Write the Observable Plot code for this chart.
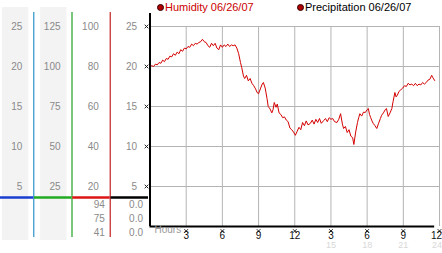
<!DOCTYPE html>
<html><head><meta charset="utf-8">
<script src="https://cdn.jsdelivr.net/npm/d3@7"></script>
<script src="https://cdn.jsdelivr.net/npm/@observablehq/plot@0.6"></script>
<style>
body{margin:0;background:#fff;font-family:"Liberation Sans",Arial,sans-serif;}
#wrap{position:relative;width:442px;height:253px;overflow:hidden;background:#fff}
#wrap svg{position:absolute;top:0;}
.lg{position:absolute;top:1px;font-size:11px;line-height:12px;white-space:nowrap;display:flex;align-items:center}
.lg i{display:inline-block;width:5px;height:5px;border-radius:50%;background:#b00000;border:1px solid #300;margin-right:1px}
</style></head><body><div id="wrap"></div><script>
// ---- data ----
const hours = [0.0,0.15,0.3,0.45,0.6,0.75,0.9,1.05,1.2,1.35,1.5,1.65,1.8,1.95,2.1,2.25,2.4,2.55,2.7,2.85,3.0,3.15,3.3,3.45,3.6,3.75,3.9,4.05,4.2,4.35,4.5,4.65,4.8,4.95,5.1,5.25,5.4,5.55,5.7,5.85,6.0,6.15,6.3,6.45,6.6,6.75,6.9,7.05,7.2,7.35,7.5,7.6,7.75,7.85,8.0,8.15,8.3,8.45,8.6,8.75,8.9,9.0,9.15,9.3,9.4,9.55,9.7,9.8,9.95,10.1,10.2,10.3,10.45,10.55,10.7,10.85,11.0,11.15,11.3,11.45,11.6,11.75,11.9,12.05,12.2,12.35,12.5,12.65,12.8,12.95,13.1,13.3,13.45,13.6,13.75,13.9,14.05,14.2,14.4,14.55,14.7,14.85,15.0,15.15,15.3,15.5,15.65,15.8,15.95,16.05,16.2,16.35,16.5,16.65,16.8,16.9,17.05,17.2,17.3,17.4,17.55,17.7,17.85,18.0,18.1,18.2,18.3,18.4,18.5,18.65,18.8,18.95,19.1,19.2,19.35,19.5,19.6,19.75,19.9,20.05,20.15,20.3,20.4,20.5,20.65,20.8,20.95,21.1,21.25,21.4,21.55,21.7,21.85,22.0,22.15,22.3,22.45,22.6,22.75,22.9,23.05,23.2,23.35,23.45,23.6];
const humidity = [20.0,20.1,20.0,20.3,20.2,20.5,20.4,20.8,20.6,21.0,20.9,21.3,21.2,21.6,21.4,21.8,21.6,22.1,21.9,22.3,22.2,22.5,22.4,22.8,22.6,22.9,22.8,23.0,23.1,23.4,23.1,23.0,22.6,22.4,22.9,22.6,22.9,22.3,22.1,22.7,22.4,22.7,22.5,22.8,22.5,22.7,22.6,22.7,22.3,21.6,20.5,19.9,18.8,18.5,18.9,18.2,18.5,17.9,17.6,17.2,16.7,16.6,17.2,17.8,18.0,17.3,16.0,15.0,14.7,14.2,14.6,15.5,14.9,15.3,14.2,14.0,13.6,13.7,13.3,13.1,12.3,12.1,11.8,11.4,11.9,12.4,12.1,13.0,12.6,13.2,12.7,12.9,13.3,12.8,13.4,13.0,13.5,12.9,13.25,13.5,13.1,13.6,13.4,13.5,13.1,13.0,13.4,14.1,12.8,12.25,12.5,11.75,12.1,11.3,11.1,10.25,11.8,13.0,13.6,14.1,13.8,14.3,14.25,14.6,14.75,14.0,13.6,13.2,12.9,12.6,12.25,12.9,13.5,13.9,14.2,14.6,14.75,13.75,14.2,14.75,15.6,16.75,16.2,16.4,16.9,17.1,17.3,17.6,17.5,17.9,17.7,17.8,17.6,17.9,17.6,17.8,17.7,18.0,17.8,18.0,18.3,18.4,18.9,18.6,18.25];
const yTicks = [5,10,15,20,25];
const col1Labels = [25,20,15,10,5];
const col2Labels = [125,100,75,50,25];
const col3Labels = [100,80,60,40,20];
const col4Labels = [25,20,15,10,5];
const col3Stats = ["94","75","41"];
const col4Stats = ["0.0","0.0","0.0"];
const xTicks = [3,6,9,12,15,18,21,24];
const xTickLabels = ["3","6","9","12","3","6","9","12"];
const xFaintLabels = ["","","","","15","18","21","24"];
const baselineValue = 3.625;
const legendLabels = ["Humidity 06/26/07","Precipitation 06/26/07"];
const legendColors = ["#cc0000","#000000"];

// ---- build ----
const FONT = "'Liberation Sans', Arial, sans-serif";
const wrap = document.getElementById("wrap");

const columns = [
  {labels: col1Labels, factor: 1},
  {labels: col2Labels, factor: 5},
  {labels: col3Labels, factor: 4},
  {labels: col4Labels, factor: 1}
];
const colLabelRows = columns.flatMap((c, i) => c.labels.map(l => ({i, text: String(l), y: l / c.factor})));
const separators = [
  {i: 1, color: "#3a9ccc"},
  {i: 2, color: "#33a833"},
  {i: 3, color: "#c83232"}
];
const baseSegs = [
  {i: 0, color: "#1a3fd0"},
  {i: 1, color: "#22aa22"},
  {i: 2, color: "#dd1515"},
  {i: 3, color: "#000000"}
];
const statRows = [0,1,2].flatMap(k => [
  {i: 2, k, text: col3Stats[k]},
  {i: 3, k, text: col4Stats[k]}
]);

const left = Plot.plot({
  width: 150, height: 253,
  marginTop: 7, marginBottom: 13, marginLeft: 0, marginRight: 0,
  x: {domain: [0, 4], range: [-5, 148], axis: null},
  y: {domain: [-1.75, 27.375], axis: null},
  style: {fontFamily: FONT, fontSize: "10px", background: "transparent"},
  marks: [
    Plot.rect([0, 1], {x1: d => d + 0.18, x2: d => d + 0.87, fill: "#f3f3f3"}),
    Plot.ruleX(separators, {x: "i", stroke: "color", strokeWidth: 1.3, insetTop: 5, insetBottom: 3}),
    Plot.ruleY(baseSegs, {y: () => baselineValue, x1: d => d.i + 0.02, x2: d => d.i + 1, stroke: "color", strokeWidth: 2.5}),
    Plot.text(colLabelRows, {x: d => d.i + 0.7, y: "y", text: "text", textAnchor: "end", fill: "#8a8a8a", fontSize: 10}),
    ...[0,1,2].map(k => Plot.text(statRows.filter(d => d.k === k), {
      x: d => d.i + 0.7, y: () => baselineValue, text: "text", textAnchor: "end",
      dx: 6, dy: 7 + 14 * k, fill: "#8a8a8a", fontSize: 10
    }))
  ]
});
left.style.left = "0px";
wrap.appendChild(left);

const series = hours.map((h, i) => ({h, v: humidity[i]}));
const tickRows = xTicks.map((t, i) => ({t, label: xTickLabels[i], faint: xFaintLabels[i], last: i === xTicks.length - 1}));
const inner = tickRows.filter(d => !d.last);
const lastTick = tickRows.filter(d => d.last);
const main = Plot.plot({
  width: 312, height: 253,
  marginTop: 13, marginBottom: 27, marginLeft: 19.5, marginRight: 3,
  x: {domain: [0, 24], axis: null},
  y: {domain: [0, 26.625], axis: null},
  style: {fontFamily: FONT, fontSize: "10px", background: "transparent", overflow: "visible"},
  marks: [
    Plot.ruleY(yTicks, {stroke: "#b4b4b4", strokeWidth: 1}),
    Plot.ruleX(xTicks, {y1: 0, y2: d3.max(yTicks), stroke: "#b4b4b4", strokeWidth: 1}),
    Plot.line(series, {x: "h", y: "v", stroke: "#d40000", strokeWidth: 1}),
    Plot.ruleX([0], {stroke: "#000", strokeWidth: 2}),
    Plot.ruleY([0], {x1: 0, x2: d3.max(hours), stroke: "#000", strokeWidth: 2}),
    Plot.dot(yTicks, {x: 0, y: d => d, symbol: "times", r: 1.8, dx: -3.5, stroke: "#222", strokeWidth: 1}),
    Plot.dot(xTicks, {x: d => d, symbol: "times", r: 1.8, frameAnchor: "bottom", dy: 4.5, stroke: "#222", strokeWidth: 1}),
    Plot.text(inner, {x: "t", text: "label", frameAnchor: "bottom", dy: 12.5, fontSize: 10, fill: "#111"}),
    Plot.text(lastTick, {x: "t", text: "label", frameAnchor: "bottom", dy: 12.5, dx: 2.5, textAnchor: "end", fontSize: 10, fill: "#111"}),
    Plot.text(inner, {x: "t", text: "faint", frameAnchor: "bottom", dy: 21.5, fontSize: 9, fill: "#d8d8d8"}),
    Plot.text(lastTick, {x: "t", text: "faint", frameAnchor: "bottom", dy: 21.5, dx: 2.5, textAnchor: "end", fontSize: 9, fill: "#d8d8d8"}),
    Plot.text(["Hours"], {x: 0, text: d => d, frameAnchor: "bottom", dx: 4.5, dy: 6.5, textAnchor: "start", fill: "#999", fontSize: 10})
  ]
});
main.style.left = "130px";
wrap.appendChild(main);

const legendLefts = [157, 297];
legendLabels.forEach((t, i) => {
  const d = document.createElement("div");
  d.className = "lg";
  d.style.left = legendLefts[i] + "px";
  d.style.color = legendColors[i];
  const dot = document.createElement("i");
  d.appendChild(dot);
  d.appendChild(document.createTextNode(t));
  wrap.appendChild(d);
});
</script></body></html>
